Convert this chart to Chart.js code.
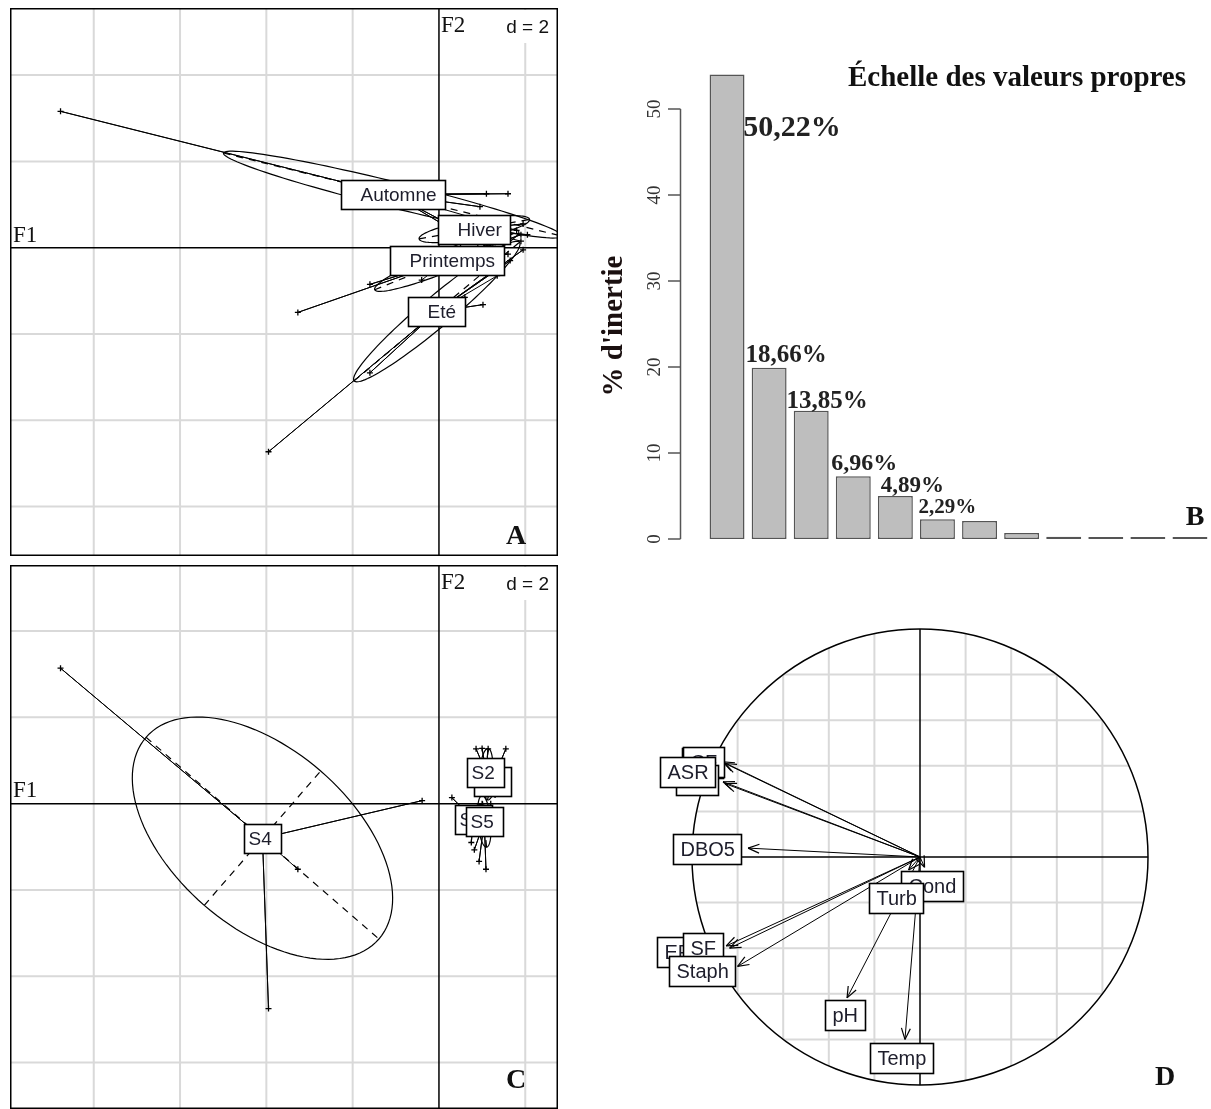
<!DOCTYPE html>
<html>
<head>
<meta charset="utf-8">
<script src="https://cdn.jsdelivr.net/npm/chart.js@4.4.0/dist/chart.umd.min.js"></script>
<style>
html, body { margin: 0; padding: 0; overflow: hidden; background: #fff; }
body { width: 1211px; height: 1109px; position: relative; }
canvas { position: absolute; }
</style>
</head>
<body>
<canvas id="chartA" width="548" height="548" style="left:10px;top:8px"></canvas>
<canvas id="chartB" width="621" height="510" style="left:590px;top:50px"></canvas>
<canvas id="chartC" width="548" height="544" style="left:10px;top:565px"></canvas>
<canvas id="chartD" width="570" height="490" style="left:640px;top:617px"></canvas>
<script>
// ---- A : seasons on F1 x F2 ----
const seasonNames = ['Automne', 'Hiver', 'Printemps', 'Eté'];
const seasonCentres = [[-1.07, 1.23], [0.82, 0.43], [0.18, -0.30], [-0.05, -1.48]];
const seasonPoints = [
    [[-8.77, 3.16], [1.10, 1.25], [1.60, 1.25], [0.95, 0.95], [0.25, 0.45], [0.60, 0.35], [1.80, 0.40]],
    [[1.55, 0.65], [1.95, 0.55], [2.05, 0.30], [0.10, 0.15], [0.50, 0.10], [1.25, 0.08], [1.90, 0.15]],
    [[-3.27, -1.50], [-1.60, -0.85], [1.30, 0.12], [1.90, 0.30], [1.60, -0.15], [0.90, 0.02], [-0.40, -0.75]],
    [[-3.95, -4.73], [1.02, -1.32], [1.65, -0.30], [1.95, -0.05], [0.60, -1.15], [-1.60, -2.90], [1.35, -0.65]]
];
// ellipses: semi-axis 1, semi-axis 2, angle of axis 1 (degrees)
const seasonEllipses = [[4.04, 0.30, -13.8], [1.30, 0.22, 10], [1.80, 0.25, 22], [2.50, 0.35, 40]];

// ---- C : stations on F1 x F2 ----
const stationNames = ['S1', 'S2', 'S3', 'S4', 'S5'];
const stationCentres = [[1.24, 0.52], [1.09, 0.73], [0.80, -0.36], [-4.09, -0.80], [1.05, -0.41]];
const stationPoints = [
    [[1.55, 1.27], [1.30, 0.20], [1.00, 0.30]],
    [[0.86, 1.27], [1.00, 1.28], [1.14, 1.27], [1.20, 0.25]],
    [[0.30, 0.14], [0.75, -0.90], [1.00, 0.00]],
    [[-8.77, 3.14], [-3.95, -4.75], [-0.39, 0.07], [-3.27, -1.52]],
    [[0.93, -1.34], [1.09, -1.52], [0.82, -1.07], [1.20, 0.00]]
];
const stationEllipses = [[0.45, 0.12, 75], [0.55, 0.15, 85], [0.40, 0.22, 50], [3.57, 2.06, -40.9], [0.60, 0.15, 95]];

const gridSteps = [-8, -6, -4, -2, 2, 4, 6];

// ---- B : eigenvalues ----
const axisNames = ['F1', 'F2', 'F3', 'F4', 'F5', 'F6', 'F7', 'F8', 'F9', 'F10', 'F11', 'F12'];
const inertiaPct = [54.0, 19.9, 14.9, 7.3, 5.0, 2.3, 2.1, 0.7, 0.25, 0.05, 0.05, 0.05];
const inertiaLabels = ['50,22%', '18,66%', '13,85%', '6,96%', '4,89%', '2,29%'];
const inertiaTicks = [0, 10, 20, 30, 40, 50];

// ---- D : correlation circle ----
const varNames = ['Temp', 'pH', 'Cond', 'Turb', 'DBO5', 'CT', 'CF', 'SR', 'ASR', 'EF', 'SF', 'Staph'];
const varF1 = [-0.066, -0.32, 0.02, -0.05, -0.754, -0.864, -0.855, -0.864, -0.855, -0.85, -0.835, -0.80];
const varF2 = [-0.80, -0.618, -0.045, -0.057, 0.039, 0.417, 0.41, 0.33, 0.322, -0.39, -0.40, -0.48];
const varLabelF1 = [-0.081, -0.327, 0.053, -0.105, -0.934, -0.954, -0.950, -0.976, -1.021, -1.066, -0.952, -0.954];
const varLabelF2 = [-0.882, -0.693, -0.127, -0.178, 0.035, 0.412, 0.418, 0.338, 0.373, -0.417, -0.40, -0.498];
const circleGrid = [-0.8, -0.6, -0.4, -0.2, 0.2, 0.4, 0.6, 0.8];

const serif = '"Liberation Serif", "Times New Roman", serif';
const sans = '"Liberation Sans", Arial, sans-serif';

function toPx(chart, x, y) {
    return [chart.scales.x.getPixelForValue(x), chart.scales.y.getPixelForValue(y)];
}

function line(ctx, a, b) {
    ctx.beginPath();
    ctx.moveTo(a[0], a[1]);
    ctx.lineTo(b[0], b[1]);
    ctx.stroke();
}

function drawEllipse(chart, c, e) {
    const ctx = chart.ctx;
    const th = e[2] * Math.PI / 180;
    const ux = Math.cos(th), uy = Math.sin(th);
    ctx.save();
    ctx.strokeStyle = '#000';
    ctx.lineWidth = 1.2;
    ctx.beginPath();
    for (let i = 0; i <= 120; i++) {
        const t = i / 120 * 2 * Math.PI;
        const dx = e[0] * Math.cos(t) * ux - e[1] * Math.sin(t) * uy;
        const dy = e[0] * Math.cos(t) * uy + e[1] * Math.sin(t) * ux;
        const p = toPx(chart, c[0] + dx, c[1] + dy);
        if (i) ctx.lineTo(p[0], p[1]); else ctx.moveTo(p[0], p[1]);
    }
    ctx.stroke();
    ctx.setLineDash([7, 6]);
    [[e[0] * ux, e[0] * uy], [-e[1] * uy, e[1] * ux]].forEach(v => {
        line(ctx, toPx(chart, c[0] - v[0], c[1] - v[1]), toPx(chart, c[0] + v[0], c[1] + v[1]));
    });
    ctx.restore();
}

function drawBox(ctx, x, y, text, font, padL, padR, h) {
    ctx.save();
    ctx.font = font;
    const w = Math.round(ctx.measureText(text).width + padL + padR);
    const left = Math.round(x - w / 2) + 0.5, top = Math.round(y - h / 2) + 0.5;
    ctx.fillStyle = '#fff';
    ctx.fillRect(left, top, w, h);
    ctx.strokeStyle = '#000';
    ctx.lineWidth = 1.6;
    ctx.strokeRect(left, top, w, h);
    ctx.fillStyle = '#1d1d2b';
    ctx.textAlign = 'left';
    ctx.textBaseline = 'middle';
    ctx.fillText(text, left + padL, top + h / 2 + 1);
    ctx.restore();
}

function text(ctx, str, x, y, font, align, color) {
    ctx.save();
    ctx.font = font;
    ctx.fillStyle = color || '#111';
    ctx.textAlign = align || 'left';
    ctx.textBaseline = 'alphabetic';
    ctx.fillText(str, x, y);
    ctx.restore();
}

// s.class style factor map (panels A and C)
function factorMap(id, names, centres, points, ellipses, yMin, yMax, letter, f1y, pads) {
    const datasets = [];
    names.forEach((n, i) => {
        const star = [];
        points[i].forEach(p => {
            star.push({ x: centres[i][0], y: centres[i][1] }, { x: p[0], y: p[1] });
        });
        datasets.push({ data: star, showLine: true, borderColor: '#000', borderWidth: 1, pointRadius: 0 });
        datasets.push({
            data: points[i].map(p => ({ x: p[0], y: p[1] })),
            pointStyle: 'cross', pointRadius: 3, borderColor: '#000', borderWidth: 1.3
        });
    });

    const mapPlugin = {
        id: 'mapPlugin',
        beforeDatasetsDraw(chart) {
            const ctx = chart.ctx, s = chart.scales;
            ctx.save();
            ctx.strokeStyle = '#d9d9d9';
            ctx.lineWidth = 2;
            gridSteps.forEach(v => {
                if (v > s.x.min && v < s.x.max) {
                    const x = s.x.getPixelForValue(v);
                    line(ctx, [x, 0], [x, chart.height]);
                }
                if (v > s.y.min && v < s.y.max) {
                    const y = s.y.getPixelForValue(v);
                    line(ctx, [0, y], [chart.width, y]);
                }
            });
            ctx.strokeStyle = '#000';
            ctx.lineWidth = 1.5;
            const x0 = s.x.getPixelForValue(0), y0 = s.y.getPixelForValue(0);
            line(ctx, [0, y0], [chart.width, y0]);
            line(ctx, [x0, 0], [x0, chart.height]);
            ctx.restore();
        },
        afterDatasetsDraw(chart) {
            const ctx = chart.ctx;
            names.forEach((n, i) => drawEllipse(chart, centres[i], ellipses[i]));
            names.forEach((n, i) => {
                const p = toPx(chart, centres[i][0], centres[i][1]);
                drawBox(ctx, p[0], p[1], n, '19px ' + sans, pads[0], pads[1], 29);
            });
        },
        afterDraw(chart) {
            const ctx = chart.ctx;
            const x0 = chart.scales.x.getPixelForValue(0);
            ctx.save();
            ctx.fillStyle = '#fff';
            ctx.fillRect(486, 2, 59, 33);
            ctx.strokeStyle = '#000';
            ctx.lineWidth = 1.5;
            ctx.strokeRect(0.75, 0.75, chart.width - 1.5, chart.height - 1.5);
            ctx.restore();
            text(ctx, 'F1', 3, f1y, '23px ' + serif);
            text(ctx, 'F2', x0 + 2, 24, '23px ' + serif);
            text(ctx, 'd = 2', 539, 25, '19px ' + sans, 'right');
            text(ctx, letter, 506, chart.height - (letter === 'A' ? 12 : 21), 'bold 28px ' + serif, 'center');
        }
    };

    return new Chart(document.getElementById(id), {
        type: 'scatter',
        data: { datasets },
        options: {
            responsive: false,
            animation: false,
            layout: { padding: 0 },
            scales: {
                x: { display: false, min: -9.818, max: 2.636 },
                y: { display: false, min: yMin, max: yMax }
            },
            plugins: { legend: { display: false }, tooltip: { enabled: false } }
        },
        plugins: [mapPlugin]
    });
}

factorMap('chartA', seasonNames, seasonCentres, seasonPoints, seasonEllipses, -7.023, 5.432, 'A', 234, [19, 9]);
factorMap('chartC', stationNames, stationCentres, stationPoints, stationEllipses, -6.955, 5.409, 'C', 232, [4, 10]);

// ---- B ----
const screePlugin = {
    id: 'screePlugin',
    afterDatasetsDraw(chart) {
        const ctx = chart.ctx, y = chart.scales.y, x = chart.scales.x;
        ctx.save();
        ctx.strokeStyle = '#555';
        ctx.lineWidth = 1.5;
        const ax = 90.5;
        line(ctx, [ax, y.getPixelForValue(0)], [ax, y.getPixelForValue(50)]);
        inertiaTicks.forEach(t => {
            const ty = y.getPixelForValue(t);
            line(ctx, [78, ty], [ax, ty]);
            ctx.save();
            ctx.translate(65, ty);
            ctx.rotate(-Math.PI / 2);
            ctx.font = '19px ' + serif;
            ctx.fillStyle = '#333';
            ctx.textAlign = 'center';
            ctx.textBaseline = 'middle';
            ctx.fillText(String(t), 0, 0);
            ctx.restore();
        });
        ctx.restore();

        // percentage labels over the bars
        const dx = [65, 17, 16, 11, 17, 10];
        const ly = [47.8, 21.3, 16.0, 8.7, 6.2, 3.6];
        const fs = [30, 25, 25, 24, 23, 21];
        inertiaLabels.forEach((lab, i) => {
            ctx.save();
            ctx.font = 'bold ' + fs[i] + 'px ' + serif;
            ctx.fillStyle = '#222';
            ctx.textAlign = 'center';
            ctx.textBaseline = 'middle';
            ctx.fillText(lab, x.getPixelForValue(i) + dx[i], y.getPixelForValue(ly[i]));
            ctx.restore();
        });

        text(ctx, 'Échelle des valeurs propres', 427, 36, 'bold 29px ' + serif, 'center', '#111');
        ctx.save();
        ctx.translate(25, 276);
        ctx.rotate(-Math.PI / 2);
        ctx.font = 'bold 29px ' + serif;
        ctx.fillStyle = '#1a1010';
        ctx.textAlign = 'center';
        ctx.textBaseline = 'middle';
        ctx.fillText("% d'inertie", 0, 0);
        ctx.restore();
        text(ctx, 'B', 605, 475, 'bold 28px ' + serif, 'center');
    }
};

new Chart(document.getElementById('chartB'), {
    type: 'bar',
    data: {
        labels: axisNames,
        datasets: [{
            data: inertiaPct,
            backgroundColor: '#bebebe',
            borderColor: '#555',
            borderWidth: 1.5,
            borderSkipped: false,
            minBarLength: 2,
            categoryPercentage: 1,
            barPercentage: 0.83
        }]
    },
    options: {
        responsive: false,
        animation: false,
        layout: { padding: { left: 116, right: 0, top: 7.4, bottom: 21 } },
        scales: {
            x: { display: false },
            y: { display: false, min: 0, max: 56 }
        },
        plugins: { legend: { display: false }, tooltip: { enabled: false } }
    },
    plugins: [screePlugin]
});

// ---- D ----
const arrowData = varNames.map((n, i) => ({
    data: [{ x: 0, y: 0 }, { x: varF1[i], y: varF2[i] }],
    showLine: true, borderColor: '#000', borderWidth: 1, pointRadius: 0
}));

const circlePlugin = {
    id: 'circlePlugin',
    beforeDatasetsDraw(chart) {
        const ctx = chart.ctx, s = chart.scales;
        const c = toPx(chart, 0, 0);
        const r = s.x.getPixelForValue(1) - c[0];
        ctx.save();
        ctx.beginPath();
        ctx.arc(c[0], c[1], r, 0, 2 * Math.PI);
        ctx.clip();
        ctx.strokeStyle = '#d9d9d9';
        ctx.lineWidth = 2;
        circleGrid.forEach(v => {
            line(ctx, toPx(chart, v, -1), toPx(chart, v, 1));
            line(ctx, toPx(chart, -1, v), toPx(chart, 1, v));
        });
        ctx.restore();
        ctx.save();
        ctx.strokeStyle = '#000';
        ctx.lineWidth = 1.5;
        ctx.beginPath();
        ctx.arc(c[0], c[1], r, 0, 2 * Math.PI);
        ctx.stroke();
        line(ctx, toPx(chart, -1, 0), toPx(chart, 1, 0));
        line(ctx, toPx(chart, 0, -1), toPx(chart, 0, 1));
        ctx.restore();
    },
    afterDatasetsDraw(chart) {
        const ctx = chart.ctx;
        const o = toPx(chart, 0, 0);
        ctx.save();
        ctx.strokeStyle = '#000';
        ctx.lineWidth = 1.2;
        varNames.forEach((n, i) => {
            const t = toPx(chart, varF1[i], varF2[i]);
            const ang = Math.atan2(t[1] - o[1], t[0] - o[0]);
            [0.38, -0.38].forEach(d => {
                line(ctx, t, [t[0] - 12 * Math.cos(ang + d), t[1] - 12 * Math.sin(ang + d)]);
            });
        });
        ctx.restore();
        varNames.forEach((n, i) => {
            const p = toPx(chart, varLabelF1[i], varLabelF2[i]);
            drawBox(ctx, p[0], p[1], n, '20px ' + sans, 7, 7, 30);
        });
        text(ctx, 'D', 525, 468, 'bold 28px ' + serif, 'center');
    }
};

new Chart(document.getElementById('chartD'), {
    type: 'scatter',
    data: { datasets: arrowData },
    options: {
        responsive: false,
        animation: false,
        layout: { padding: 0 },
        scales: {
            x: { display: false, min: -1.2281, max: 1.2719 },
            y: { display: false, min: -1.0965, max: 1.0526 }
        },
        plugins: { legend: { display: false }, tooltip: { enabled: false } }
    },
    plugins: [circlePlugin]
});
</script>
</body>
</html>
